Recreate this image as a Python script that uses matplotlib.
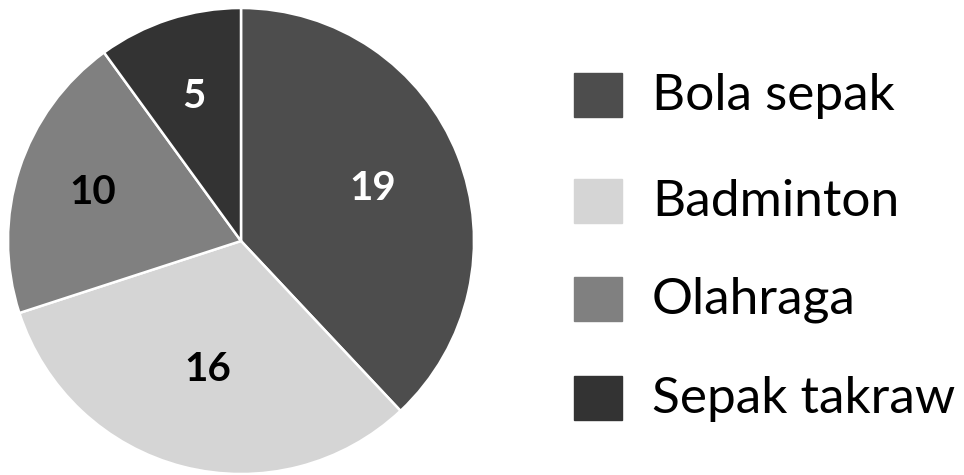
import numpy as np
import matplotlib.pyplot as plt
from matplotlib.patches import Rectangle

# Data
sukan = ["Bola sepak", "Badminton", "Olahraga", "Sepak takraw"]
bilangan = [19, 16, 10, 5]
warna = ["#4d4d4d", "#d5d5d5", "#808080", "#333333"]
warna_label = ["white", "black", "black", "white"]
jarak_label = [0.61, 0.57, 0.67, 0.65]

plt.rcParams["font.family"] = ["Lato", "DejaVu Sans"]

fig = plt.figure(figsize=(9.64, 4.75), dpi=100)
W, H = 964, 475

# Pie centred at (241, 241) px, radius 233 px
cx, cy, r = 241, 475 - 241, 233
ax = fig.add_axes([(cx - r) / W, (cy - r) / H, 2 * r / W, 2 * r / H])
wedges, _ = ax.pie(bilangan, colors=warna, startangle=90, counterclock=False,
                   radius=1.0,
                   wedgeprops=dict(edgecolor="white", linewidth=1.8))
ax.set_xlim(-1, 1)
ax.set_ylim(-1, 1)
ax.set_aspect("equal")

for w, val, c, d in zip(wedges, bilangan, warna_label, jarak_label):
    ang = np.deg2rad((w.theta1 + w.theta2) / 2)
    ax.text(d * np.cos(ang), d * np.sin(ang), str(val), color=c,
            fontsize=29, fontweight="bold", ha="center", va="center")

# Legend drawn in pixel space
lax = fig.add_axes([0, 0, 1, 1])
lax.set_xlim(0, W)
lax.set_ylim(H, 0)
lax.axis("off")
pos_y = [95, 201, 299, 398]
for nama, c, y in zip(sukan, warna, pos_y):
    lax.add_patch(Rectangle((574, y - 22), 48, 44, color=c))
    lax.text(652, y + 1, nama, fontsize=37, ha="left", va="center",
             color="black")

fig.savefig("out.png", dpi=100)
